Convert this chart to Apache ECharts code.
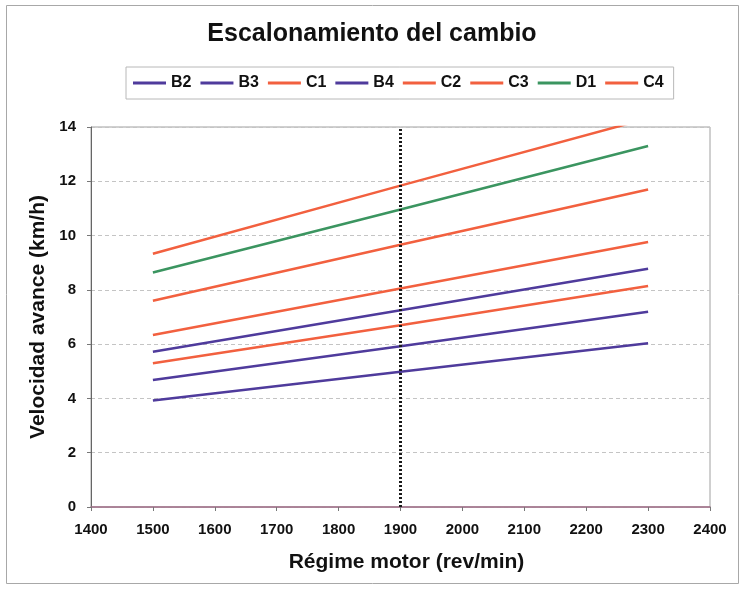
<!DOCTYPE html>
<html>
<head>
<meta charset="utf-8">
<script src="https://cdn.jsdelivr.net/npm/echarts@6/dist/echarts.min.js"></script>
<style>
  html, body { margin: 0; padding: 0; background: #fff; }
  #chart { width: 744px; height: 590px; }
</style>
</head>
<body>
<div id="chart"></div>
<script>
// Engine speed (rev/min) at which each gear's ground speed is given
const rpm = [1500, 1900, 2300];

// Ground speed (km/h) per gear at the engine speeds above
const B2 = [3.92, 4.98, 6.03];
const B3 = [4.68, 5.92, 7.19];
const C1 = [5.30, 6.70, 8.14];
const B4 = [5.72, 7.25, 8.78];
const C2 = [6.34, 8.05, 9.76];
const C3 = [7.60, 9.66, 11.70];
const D1 = [8.64, 10.96, 13.30];
const C4 = [9.33, 11.84, 14.32];

const gearNames = ['B2', 'B3', 'C1', 'B4', 'C2', 'C3', 'D1', 'C4'];
const gearValues = [B2, B3, C1, B4, C2, C3, D1, C4];

// Reference engine speed marked with a dotted vertical line
const refRpm = 1900;

const xTicks = [1400, 1500, 1600, 1700, 1800, 1900, 2000, 2100, 2200, 2300, 2400];
const yTicks = [0, 2, 4, 6, 8, 10, 12, 14];

const PURPLE = '#4f3b9c';
const ORANGE = '#f2603f';
const GREEN = '#3b9560';
const gearColors = {
  B2: PURPLE, B3: PURPLE, B4: PURPLE,
  C1: ORANGE, C2: ORANGE, C3: ORANGE, C4: ORANGE,
  D1: GREEN
};

const FONT = '"Liberation Sans", Arial, sans-serif';

const series = gearNames.map((name, i) => ({
  name: name,
  type: 'line',
  symbol: 'none',
  clip: true,
  data: rpm.map((r, j) => [r, gearValues[i][j]]),
  lineStyle: { width: 2.5, color: gearColors[name] },
  itemStyle: { color: gearColors[name] },
  z: 3
}));

// dotted reference line at the reference engine speed
series.push({
  name: 'ref',
  type: 'line',
  symbol: 'none',
  data: [[refRpm, yTicks[0]], [refRpm, yTicks[yTicks.length - 1]]],
  lineStyle: { width: 3, color: '#1a1a1a', type: [2, 2] },
  z: 4,
  silent: true
});

const chart = echarts.init(document.getElementById('chart'), null, { renderer: 'canvas' });
chart.setOption({
  backgroundColor: '#ffffff',
  animation: false,
  title: {
    text: 'Escalonamiento del cambio',
    left: 'center',
    top: 17,
    textStyle: { fontFamily: FONT, fontSize: 25, fontWeight: 'bold', color: '#111' }
  },
  graphic: [{
    type: 'rect',
    shape: { x: 6.5, y: 5.5, width: 732, height: 578 },
    style: { fill: 'none', stroke: '#a8a8a8', lineWidth: 1 },
    silent: true
  }],
  legend: {
    data: gearNames,
    left: 126,
    top: 67,
    padding: [8, 10, 8, 7],
    itemGap: 9,
    itemWidth: 33,
    itemHeight: 3,
    icon: 'rect',
    borderColor: '#b8b8b8',
    borderWidth: 1,
    textStyle: { fontFamily: FONT, fontSize: 16, fontWeight: 'bold', color: '#111' }
  },
  grid: {
    left: 91, right: 34, top: 127, bottom: 83,
    show: true, borderColor: '#a0a0a0', borderWidth: 1, backgroundColor: '#ffffff'
  },
  xAxis: {
    type: 'value',
    min: xTicks[0],
    max: xTicks[xTicks.length - 1],
    interval: 100,
    name: 'Régime motor (rev/min)',
    nameLocation: 'middle',
    nameGap: 45,
    nameTextStyle: {
      fontFamily: FONT, fontSize: 21, fontWeight: 'bold', color: '#111',
      padding: [0, 0, 0, 12]
    },
    axisLine: { lineStyle: { color: '#a06c86', width: 1.5 } },
    axisTick: { show: true, length: 4, lineStyle: { color: '#777' } },
    axisLabel: {
      fontFamily: FONT, fontSize: 15, fontWeight: 'bold', color: '#111', margin: 15,
      formatter: (v) => String(v)
    },
    splitLine: { show: false }
  },
  yAxis: {
    type: 'value',
    min: yTicks[0],
    max: yTicks[yTicks.length - 1],
    interval: 2,
    name: 'Velocidad avance (km/h)',
    nameLocation: 'middle',
    nameGap: 42,
    nameTextStyle: { fontFamily: FONT, fontSize: 21, fontWeight: 'bold', color: '#111' },
    axisLine: { show: true, lineStyle: { color: '#666', width: 1 } },
    axisTick: { show: true, length: 4, lineStyle: { color: '#777' } },
    axisLabel: { fontFamily: FONT, fontSize: 15, fontWeight: 'bold', color: '#111', margin: 15 },
    splitLine: { show: true, lineStyle: { color: '#c4c4c4', type: [4, 3], width: 1 } }
  },
  series: series
});
</script>
</body>
</html>
